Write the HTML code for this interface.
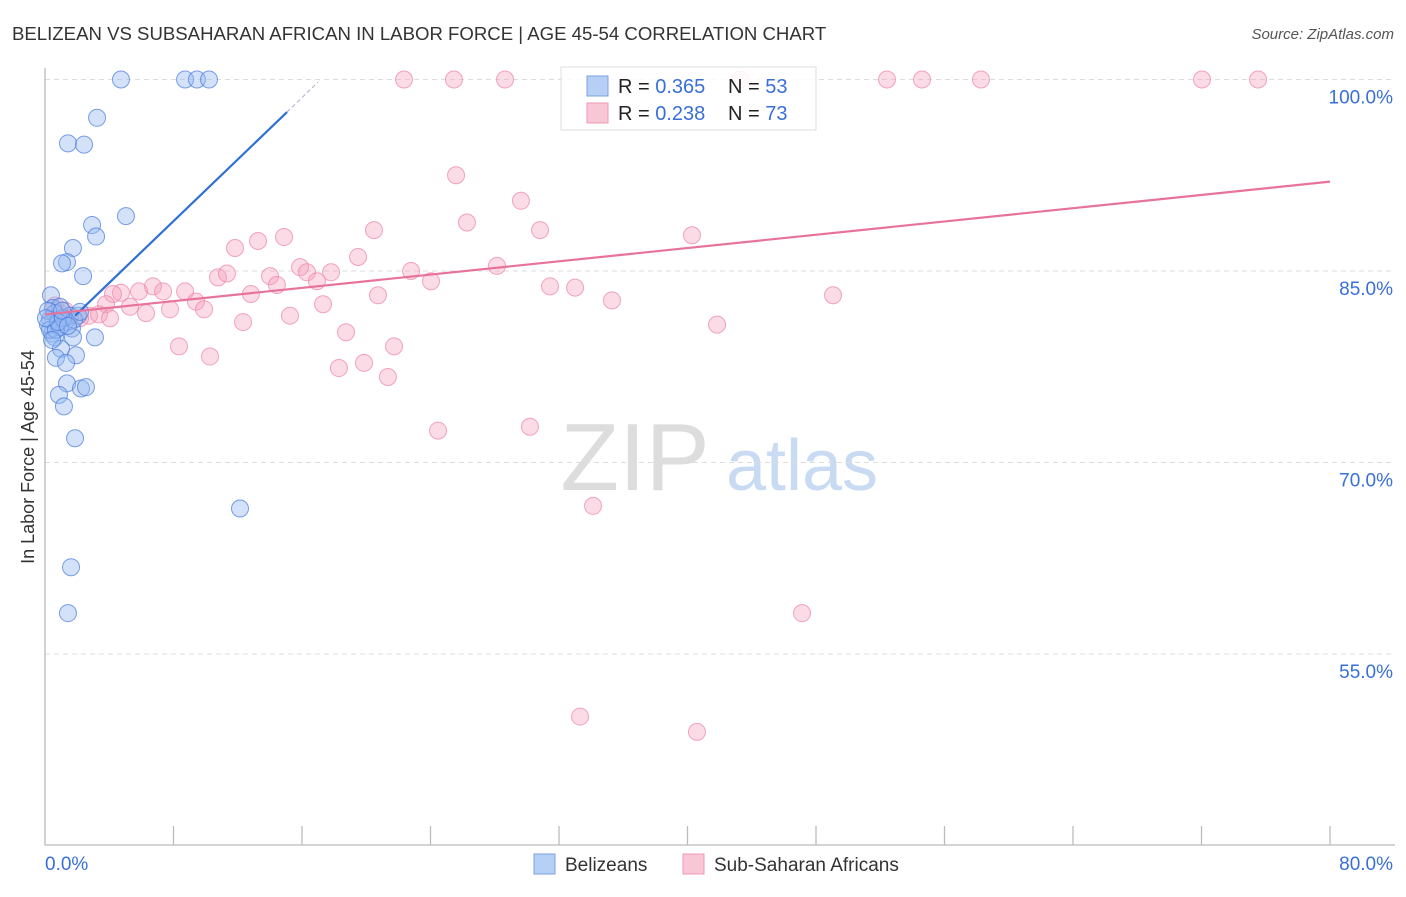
<!DOCTYPE html>
<html><head><meta charset="utf-8"><style>
body{margin:0;background:#fff;font-family:"Liberation Sans",sans-serif}
svg text{font-family:"Liberation Sans",sans-serif}
</style></head><body>
<svg id="c" width="1406" height="892" xmlns="http://www.w3.org/2000/svg">
<text x="12" y="40" font-size="18.6" fill="#333">BELIZEAN VS SUBSAHARAN AFRICAN IN LABOR FORCE | AGE 45-54 CORRELATION CHART</text>
<text x="1394" y="39" font-size="15" fill="#555" font-style="italic" text-anchor="end">Source: ZipAtlas.com</text>
<text transform="translate(34,457) rotate(-90)" font-size="18" fill="#333" text-anchor="middle">In Labor Force | Age 45-54</text>
<g>
<text x="635" y="490" font-size="96" fill="#ddd" font-family="Liberation Serif" text-anchor="middle">ZIP</text>
<text x="802" y="490" font-size="72" fill="#c9daf3" text-anchor="middle">atlas</text>
</g>
<g id="grid"></g><g id="axes"></g><g id="pts"></g><g id="trend"></g>
<g>
<rect x="561" y="67" width="255" height="63" fill="#fff" fill-opacity="0.85" stroke="#ddd"/>
<rect x="587" y="76" width="21" height="20" fill="#b7cff5" stroke="#7aa3e3"/>
<rect x="587" y="103" width="21" height="20" fill="#f8c7d6" stroke="#ee9ab3"/>
<text x="618" y="93" font-size="20" fill="#222">R = <tspan fill="#3a6fd8">0.365</tspan><tspan x="728">N = </tspan><tspan fill="#3a6fd8">53</tspan></text>
<text x="618" y="120" font-size="20" fill="#222">R = <tspan fill="#3a6fd8">0.238</tspan><tspan x="728">N = </tspan><tspan fill="#3a6fd8">73</tspan></text>
</g>
<g>
<rect x="534" y="854" width="21" height="20" fill="#b7cff5" stroke="#7aa3e3"/>
<text x="565" y="871" font-size="19" fill="#333">Belizeans</text>
<rect x="683" y="854" width="21" height="20" fill="#f8c7d6" stroke="#ee9ab3"/>
<text x="714" y="871" font-size="19" fill="#333">Sub-Saharan Africans</text>
</g>
</svg>
<script>
const yTicks=[100,85,70,55];
const yTickLabels=["100.0%","85.0%","70.0%","55.0%"];
const xTickLabels=["0.0%","80.0%"];
const blueX=[4.73,8.72,9.46,10.21,3.24,1.43,2.43,5.04,2.93,3.18,1.74,1.37,1.06,2.37,0.37,0.5,0.93,0.62,0.31,1.25,1.68,0.44,0.62,1.74,3.11,1.0,1.93,0.68,1.31,1.37,2.24,2.55,0.87,1.18,1.87,12.14,1.62,1.43,0.19,0.31,0.93,1.56,2.05,0.68,0.19,1.12,0.81,1.81,2.18,0.44,1.06,1.43,0.06];
const blueY=[100,100,100,100,97.0,95.0,94.9,89.3,88.6,87.7,86.8,85.7,85.6,84.6,83.1,82.1,82.2,81.7,81.2,81.0,80.5,80.1,79.8,79.8,79.8,78.9,78.4,78.2,77.8,76.2,75.8,75.9,75.3,74.4,71.9,66.4,61.8,58.2,80.8,80.4,80.6,81.5,81.5,80.4,81.9,81.3,81.0,81.2,81.8,79.6,81.9,80.7,81.3];
const pinkX=[22.35,25.46,28.64,43.27,52.42,54.6,58.27,72.03,75.52,25.59,29.63,26.27,30.82,20.48,40.28,11.83,13.26,14.88,19.49,15.88,16.31,17.81,14.01,10.77,11.33,22.79,28.14,16.93,14.44,24.03,31.44,33.0,49.06,6.72,5.85,7.35,8.72,4.73,4.23,12.82,20.73,9.4,35.3,3.8,5.29,7.78,6.29,9.9,17.31,15.25,12.33,41.84,18.74,2.74,3.36,2.18,4.05,1.56,0.93,8.34,10.27,21.73,19.86,18.3,21.35,24.47,30.19,34.12,47.13,33.31,40.59,0.62,1.25];
const pinkY=[100,100,100,100,100,100,100,100,100,92.5,90.5,88.8,88.2,88.2,87.8,86.8,87.35,87.66,86.1,85.3,84.9,84.9,84.6,84.5,84.8,85.0,85.4,84.2,83.9,84.2,83.8,83.7,83.1,83.8,83.4,83.4,83.4,83.3,83.2,83.2,83.1,82.6,82.7,82.4,82.2,82.0,81.7,82.0,82.4,81.5,81.0,80.8,80.2,81.5,81.6,81.3,81.3,81.5,81.7,79.1,78.3,79.1,77.8,77.4,76.7,72.5,72.8,66.6,58.2,50.1,48.9,82.3,81.9];
const blueTrendX=[1.87,15.07,17.0];
const blueTrendY=[81.5,97.45,99.8];
const pinkTrendX=[0,80];
const pinkTrendY=[81.6,92.0];
const NS="http://www.w3.org/2000/svg";
const sx=v=>45+v*16.0625, sy=v=>79.5+(100-v)*12.767;
function mk(t,a,p){const e=document.createElementNS(NS,t);for(const k in a)e.setAttribute(k,a[k]);p.appendChild(e);return e;}
const grid=document.getElementById('grid'),axes=document.getElementById('axes'),pts=document.getElementById('pts'),tr=document.getElementById('trend');
yTicks.forEach((t,i)=>{
 const l=mk('line',{x1:45,x2:1395,y1:sy(t),y2:sy(t),stroke:'#ddd','stroke-dasharray':'5,4'},grid);
 
 
 const tx=mk('text',{x:1393,y:sy(t)+24,'font-size':19,fill:'#3a6fd8','text-anchor':'end'},axes);
 tx.textContent=yTickLabels[i];
 
 
});
const ax=mk('path',{d:`M45 68V845H1395`,fill:'none',stroke:'#bbb','stroke-width':1.3},axes);


for(let i=1;i<=10;i++){const x=sx(i*8);const t=mk('line',{x1:x,x2:x,y1:826,y2:845,stroke:'#bbb','stroke-width':1.3},axes);
 
 }
[[0,'start',45],[80,'end',1393]].forEach((d,i)=>{const t=mk('text',{x:d[2],y:870,'font-size':19,fill:'#3a6fd8','text-anchor':d[1]},axes);t.textContent=xTickLabels[i];
 
 });
pinkX.forEach((x,i)=>{const c=mk('circle',{cx:sx(x),cy:sy(pinkY[i]),r:8.5,fill:'rgba(244,160,188,0.38)',stroke:'rgba(236,130,165,0.7)','stroke-width':1},pts);
 
 });
blueX.forEach((x,i)=>{const c=mk('circle',{cx:sx(x),cy:sy(blueY[i]),r:8.5,fill:'rgba(150,185,240,0.42)',stroke:'rgba(70,120,220,0.7)','stroke-width':1},pts);
 
 });
const b1=mk('line',{x1:sx(blueTrendX[0]),y1:sy(blueTrendY[0]),x2:sx(blueTrendX[1]),y2:sy(blueTrendY[1]),stroke:'#2f6fd6','stroke-width':2.2},tr);


const b2=mk('line',{x1:sx(blueTrendX[1]),y1:sy(blueTrendY[1]),x2:sx(blueTrendX[2]),y2:sy(blueTrendY[2]),stroke:'#aac','stroke-width':1,'stroke-dasharray':'4,3'},tr);


const p1=mk('line',{x1:sx(pinkTrendX[0]),y1:sy(pinkTrendY[0]),x2:sx(pinkTrendX[1]),y2:sy(pinkTrendY[1]),stroke:'#e8739a','stroke-width':2.2},tr);


</script>
</body></html>
